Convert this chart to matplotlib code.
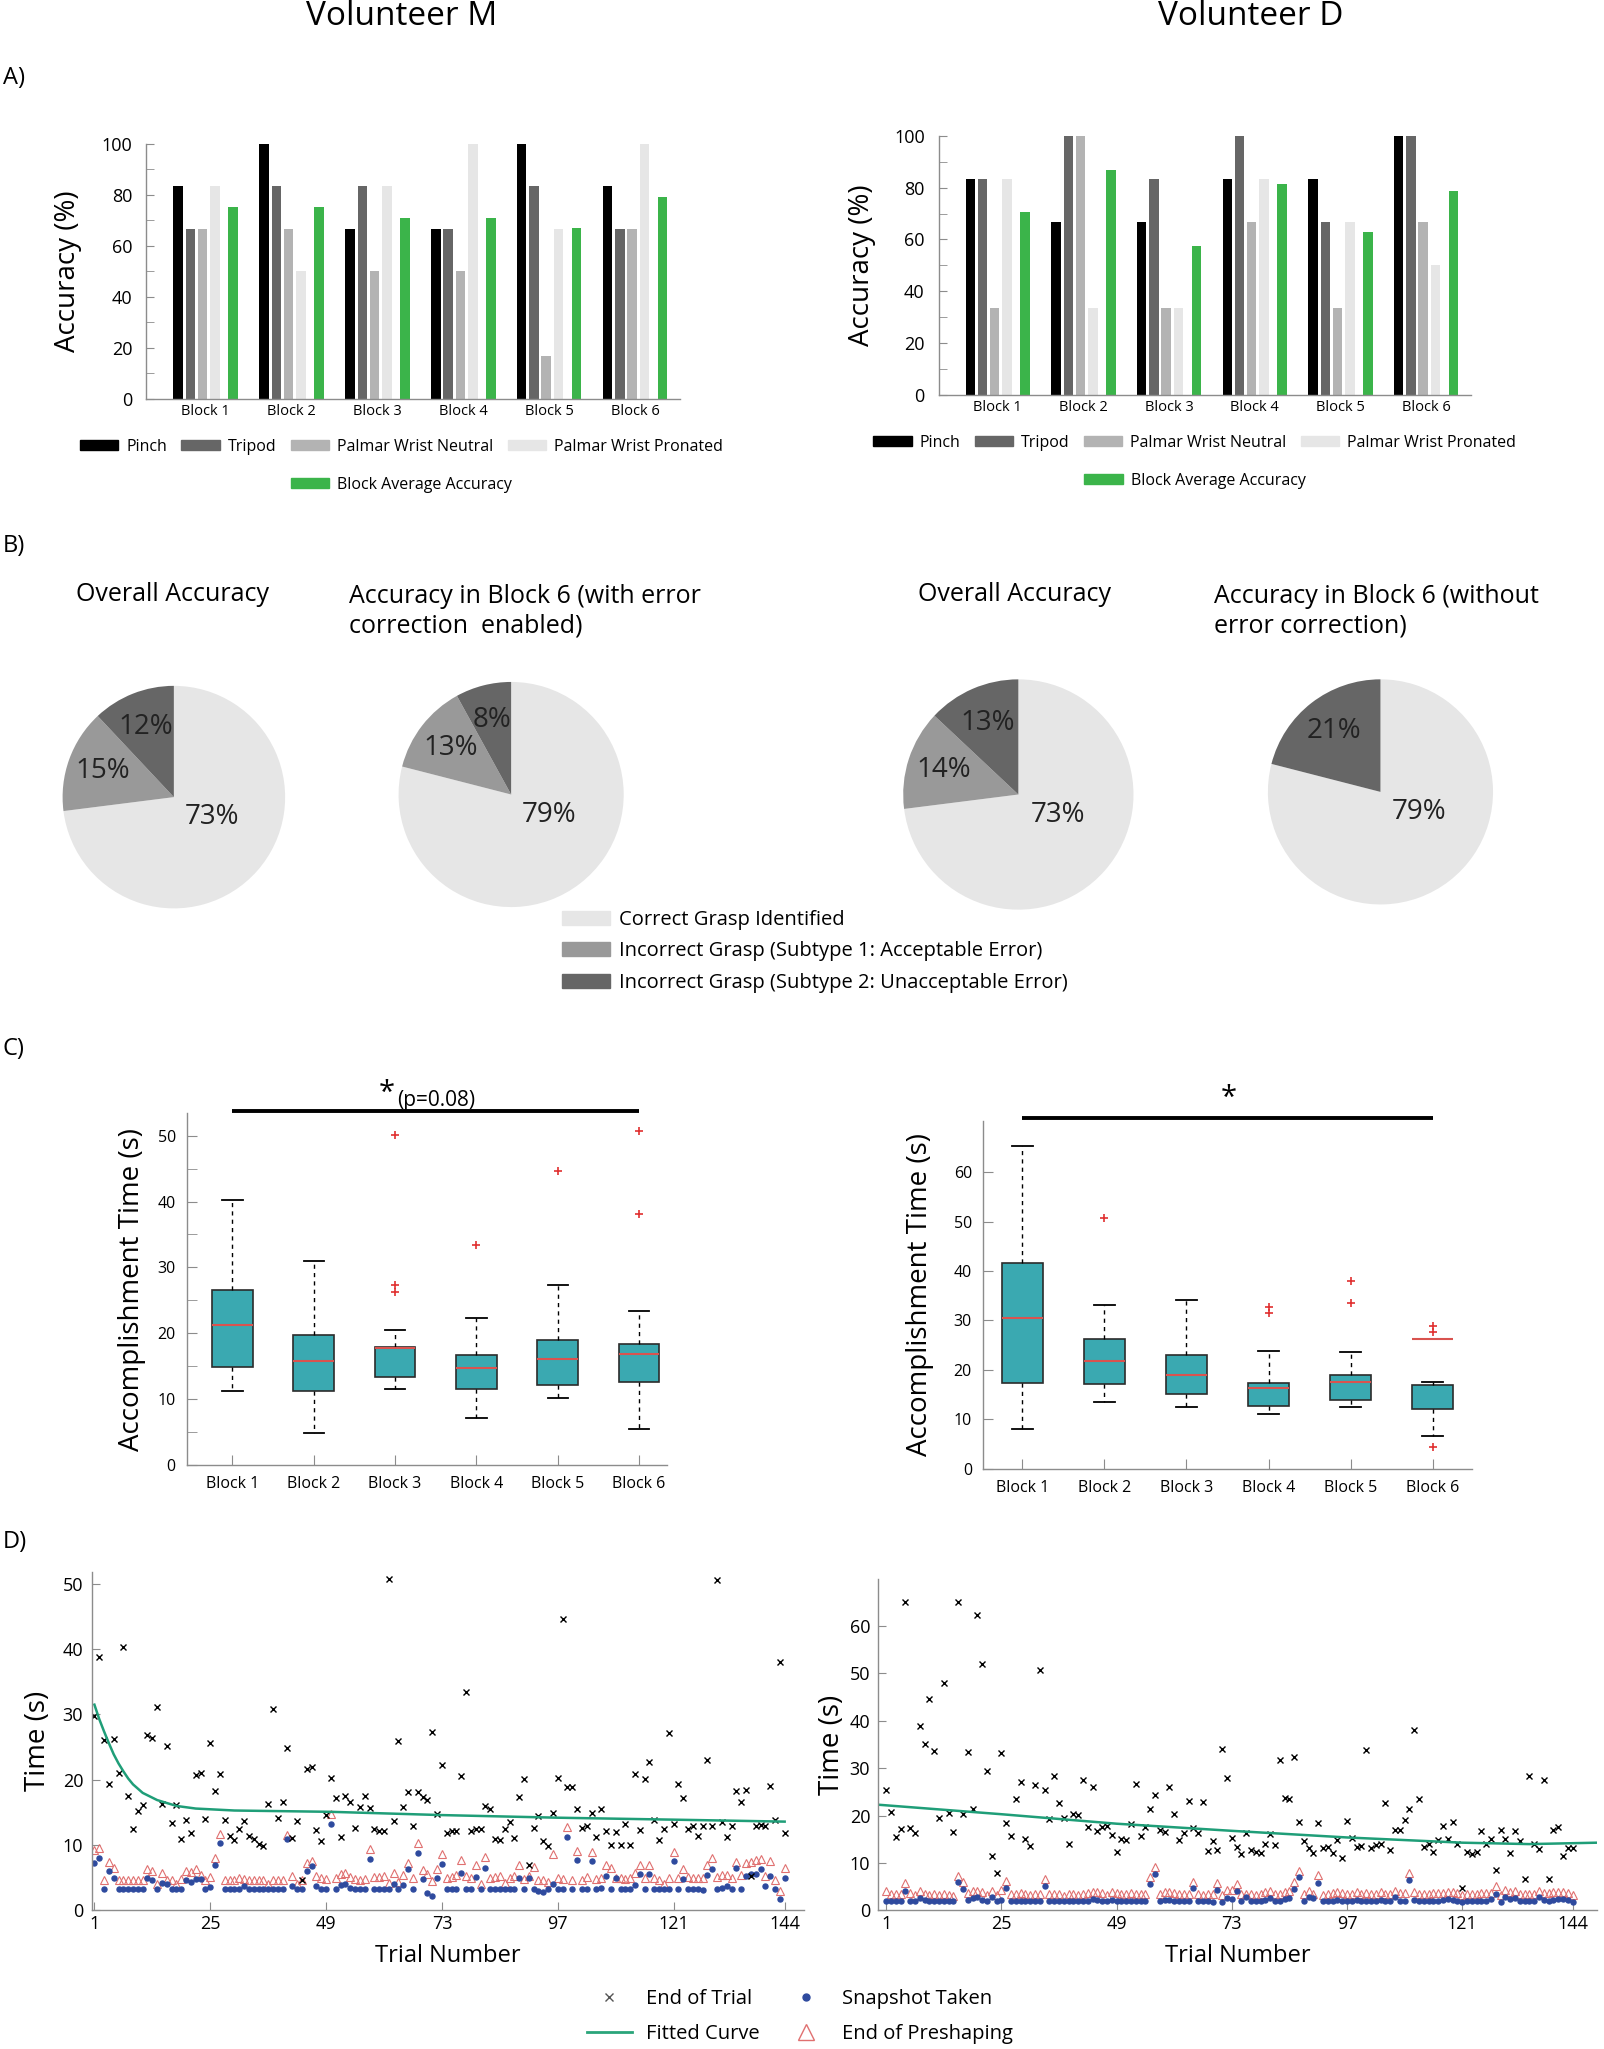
import numpy as np
import matplotlib
matplotlib.use("Agg")
import matplotlib.pyplot as plt
from matplotlib.patches import Patch
from matplotlib.lines import Line2D

plt.rcParams['font.family'] = ['Open Sans', 'DejaVu Sans']

# ---------------- data ----------------
blocks = ["Block 1", "Block 2", "Block 3", "Block 4", "Block 5", "Block 6"]
grasps = ["Pinch", "Tripod", "Palmar Wrist Neutral", "Palmar Wrist Pronated"]

# A) accuracy per grasp per block (rows = grasps)
accM = [[83.3, 100, 66.7, 66.7, 100, 83.3],
        [66.7, 83.3, 83.3, 66.7, 83.3, 66.7],
        [66.7, 66.7, 50.0, 50.0, 16.7, 66.7],
        [83.3, 50.0, 83.3, 100, 66.7, 100]]
avgM = [75.2, 75.2, 71.0, 71.0, 66.9, 79.1]

accD = [[83.3, 66.7, 66.7, 83.3, 83.3, 100],
        [83.3, 100, 83.3, 100, 66.7, 100],
        [33.3, 100, 33.3, 66.7, 33.3, 66.7],
        [83.3, 33.3, 33.3, 83.3, 66.7, 50.0]]
avgD = [70.7, 86.8, 57.5, 81.6, 62.7, 78.8]

# B) pie charts: correct, subtype 1, subtype 2
pie_labels = ["Correct Grasp Identified",
              "Incorrect Grasp (Subtype 1: Acceptable Error)",
              "Incorrect Grasp (Subtype 2: Unacceptable Error)"]
pieM_overall = [73, 15, 12]
pieM_block6 = [79, 13, 8]
pieD_overall = [73, 14, 13]
pieD_block6 = [79, 0, 21]

# C) accomplishment time box stats: whislo, q1, med, q3, whishi
boxM = [[11.2, 14.85, 21.3, 26.5, 40.3],
        [4.8, 11.25, 15.75, 19.8, 31.0],
        [11.6, 13.4, 17.75, 17.9, 20.5],
        [7.1, 11.5, 14.7, 16.7, 22.3],
        [10.1, 12.2, 16.1, 19.0, 27.4],
        [5.4, 12.6, 16.8, 18.4, 23.4]]
fliersM = [[], [], [50.1, 27.4, 26.2], [33.4], [44.7], [50.7, 38.1]]

boxD = [[8.0, 17.3, 30.5, 41.7, 65.2],
        [13.6, 17.2, 21.9, 26.2, 33.2],
        [12.4, 15.1, 19.0, 23.0, 34.2],
        [11.1, 12.6, 16.4, 17.4, 23.9],
        [12.4, 13.9, 17.6, 18.9, 23.6],
        [6.6, 12.1, 26.2, 16.9, 17.6]]
fliersD = [[], [50.7], [], [32.8, 31.6], [38.0, 33.6], [28.9, 27.6, 4.5]]

# D) per-trial times (s)
trials = np.arange(1, 145)

endM = [29.8, 38.8, 26.1, 19.4, 26.3, 21.1, 40.3, 17.5, 12.4, 15.2,
        16.2, 26.9, 26.4, 31.2, 16.3, 25.1, 13.4, 16.2, 10.9, 13.8,
        11.9, 20.7, 21.0, 14.0, 25.6, 18.3, 20.9, 13.9, 11.4, 10.8,
        12.4, 13.7, 11.4, 10.9, 10.2, 9.8, 16.3, 30.9, 14.2, 16.6,
        24.8, 11.1, 13.7, 4.6, 21.6, 21.9, 12.3, 10.7, 14.6, 20.3,
        17.2, 11.3, 17.5, 16.6, 12.6, 15.8, 17.5, 15.7, 12.4, 12.2,
        12.2, 50.7, 13.7, 25.9, 15.8, 18.1, 12.9, 18.2, 17.3, 16.9,
        27.3, 14.8, 22.3, 11.9, 12.1, 12.1, 20.6, 33.4, 12.1, 12.5,
        12.5, 16.0, 15.5, 10.9, 10.8, 12.4, 13.6, 11.1, 17.4, 20.2,
        7.0, 12.6, 14.4, 10.7, 9.9, 14.9, 20.3, 44.6, 18.9, 18.9,
        15.6, 12.6, 13.0, 14.9, 11.2, 15.6, 12.2, 10.0, 12.0, 10.0,
        13.2, 10.0, 20.9, 12.3, 20.2, 22.8, 13.9, 10.8, 12.5, 27.2,
        13.2, 19.4, 17.2, 12.4, 12.9, 11.4, 12.9, 23.1, 12.9, 50.6,
        13.5, 11.2, 12.9, 18.3, 16.6, 18.4, 5.3, 12.9, 13.1, 12.9,
        19.0, 13.9, 38.1, 11.9]
snapM = [7.2, 8.1, 3.3, 6.1, 5.0, 3.3, 3.3, 3.3, 3.3, 3.3,
         3.3, 4.9, 4.6, 3.3, 4.2, 4.0, 3.3, 3.3, 3.3, 4.7,
         4.4, 4.8, 4.8, 3.3, 3.6, 6.9, 10.3, 3.3, 3.3, 3.3,
         3.3, 3.7, 3.3, 3.3, 3.3, 3.3, 3.3, 3.3, 3.3, 3.3,
         11.0, 3.8, 3.3, 3.3, 6.0, 6.8, 3.8, 3.3, 3.3, 13.3,
         3.3, 3.9, 4.1, 3.5, 3.3, 3.3, 3.3, 7.9, 3.3, 3.3,
         3.3, 3.3, 4.0, 3.3, 3.9, 6.3, 3.3, 8.8, 4.8, 2.6,
         2.2, 5.0, 7.1, 3.3, 3.3, 3.3, 5.8, 3.3, 3.3, 5.2,
         3.3, 6.5, 3.3, 3.3, 3.3, 3.3, 3.3, 3.3, 5.0, 3.3,
         5.0, 3.3, 3.0, 2.8, 3.3, 4.1, 3.3, 3.3, 11.2, 3.3,
         7.7, 3.3, 3.3, 7.6, 3.3, 3.4, 5.3, 3.3, 5.0, 3.3,
         3.3, 3.3, 3.9, 5.6, 3.3, 5.6, 3.3, 3.3, 3.3, 3.3,
         7.5, 3.3, 4.8, 3.3, 3.3, 3.3, 3.2, 5.5, 6.3, 3.3,
         3.4, 3.7, 3.3, 6.5, 3.3, 5.3, 5.6, 5.6, 6.4, 3.8,
         5.3, 3.3, 1.8, 5.0]
preM = [9.2, 9.5, 4.7, 7.4, 6.5, 4.7, 4.7, 4.7, 4.7, 4.7,
        4.7, 6.4, 6.0, 4.1, 5.7, 4.7, 4.6, 4.0, 4.8, 6.0,
        5.9, 6.3, 5.5, 4.7, 5.2, 8.1, 11.7, 4.7, 4.7, 4.7,
        5.0, 4.8, 4.7, 4.7, 4.7, 4.7, 4.1, 4.7, 4.7, 4.7,
        11.6, 5.3, 4.1, 4.7, 7.3, 7.6, 5.3, 4.9, 4.8, 14.8,
        5.0, 5.6, 5.7, 5.2, 4.8, 4.7, 4.8, 9.4, 5.1, 5.1,
        5.3, 4.2, 5.7, 4.4, 5.5, 7.3, 4.9, 10.3, 6.2, 5.6,
        4.5, 6.4, 8.6, 4.9, 5.1, 5.4, 7.8, 5.3, 5.0, 6.9,
        4.1, 8.2, 5.0, 5.1, 5.3, 4.2, 4.9, 5.3, 6.9, 4.8,
        5.3, 6.7, 4.7, 4.7, 4.3, 8.6, 5.0, 4.8, 12.8, 4.7,
        9.1, 4.7, 5.1, 8.9, 4.8, 4.9, 6.9, 6.5, 5.0, 4.9,
        4.8, 5.0, 5.8, 7.0, 5.0, 7.0, 4.9, 4.7, 4.1, 5.0,
        8.9, 5.0, 6.4, 5.1, 5.0, 4.9, 4.9, 7.0, 8.0, 5.1,
        5.4, 5.4, 5.0, 7.4, 5.4, 7.3, 7.4, 7.7, 7.9, 5.3,
        7.6, 4.7, 3.0, 6.5]

endD = [25.4, 20.8, 15.5, 17.1, 65.1, 17.5, 16.3, 38.9, 35.2, 44.6,
        33.6, 19.6, 47.9, 20.5, 16.5, 65.1, 20.3, 33.5, 21.3, 62.3,
        51.9, 29.5, 11.5, 8.0, 33.2, 18.5, 15.7, 23.5, 27.2, 15.0,
        13.6, 26.4, 50.8, 25.5, 19.2, 28.3, 22.6, 19.4, 14.1, 20.3,
        20.1, 27.5, 17.6, 26.1, 16.7, 17.7, 17.8, 15.9, 12.3, 15.0,
        14.9, 18.2, 26.6, 15.7, 17.7, 21.3, 24.3, 16.9, 16.6, 26.0,
        20.4, 14.8, 16.3, 23.1, 17.4, 16.3, 22.9, 12.5, 14.7, 12.8,
        34.1, 28.0, 15.2, 13.3, 12.0, 16.4, 12.8, 12.4, 12.2, 14.1,
        16.1, 13.8, 31.7, 23.8, 23.6, 32.4, 18.6, 14.7, 13.2, 12.1,
        18.5, 13.2, 13.4, 12.1, 14.9, 11.0, 18.9, 15.3, 13.3, 13.6,
        33.9, 13.1, 13.8, 14.1, 22.7, 12.7, 17.0, 16.9, 19.0, 21.3,
        38.0, 23.6, 13.3, 14.1, 12.4, 14.9, 17.8, 15.0, 18.7, 14.1,
        4.7, 12.4, 12.0, 12.4, 16.8, 14.0, 15.0, 8.5, 17.0, 15.0,
        12.2, 16.8, 14.6, 6.6, 28.4, 14.1, 13.0, 27.6, 6.6, 17.0,
        17.6, 11.4, 13.2, 13.2]
snapD = [2.0, 2.0, 2.0, 2.0, 4.2, 2.0, 1.9, 2.6, 2.2, 2.0,
         2.0, 2.0, 2.0, 2.0, 1.9, 6.1, 4.5, 2.2, 2.6, 2.8,
         2.3, 1.9, 2.8, 2.0, 2.2, 4.7, 2.0, 2.0, 2.1, 2.0,
         1.9, 2.0, 2.0, 5.2, 2.0, 2.0, 2.1, 2.0, 2.0, 2.0,
         1.9, 2.0, 1.9, 2.4, 2.2, 2.0, 2.0, 2.3, 2.1, 1.9,
         2.0, 2.1, 2.0, 1.9, 2.0, 5.6, 7.7, 1.9, 2.2, 2.3,
         2.1, 2.0, 2.0, 2.0, 4.7, 2.0, 1.9, 2.0, 1.8, 4.3,
         1.8, 2.7, 2.5, 4.1, 1.9, 2.8, 2.0, 2.0, 1.9, 2.3,
         2.6, 2.0, 2.0, 2.5, 2.6, 4.5, 7.0, 2.1, 2.8, 2.6,
         5.9, 1.9, 1.9, 2.0, 2.3, 2.1, 2.0, 2.0, 2.3, 2.0,
         2.0, 1.9, 1.9, 2.3, 1.9, 1.9, 2.8, 2.0, 2.1, 6.4,
         2.2, 2.0, 1.9, 1.9, 2.0, 2.1, 2.2, 2.4, 2.3, 2.0,
         1.8, 1.9, 2.0, 2.0, 2.0, 2.1, 2.4, 3.4, 1.8, 2.8,
         2.4, 2.6, 2.0, 1.9, 1.9, 2.0, 2.9, 2.2, 1.9, 2.3,
         2.4, 2.4, 2.2, 1.8]
preD = [4.2, 3.5, 3.4, 3.5, 5.8, 3.6, 3.3, 4.2, 3.4, 3.2,
        3.4, 3.3, 3.5, 3.3, 3.0, 7.3, 6.1, 3.7, 4.1, 4.2,
        3.8, 3.3, 4.2, 3.3, 4.3, 6.2, 3.5, 3.5, 3.6, 3.5,
        3.3, 3.4, 3.5, 6.6, 3.5, 3.4, 3.5, 3.1, 3.5, 3.4,
        3.3, 3.5, 3.6, 4.0, 3.8, 3.6, 3.3, 3.9, 3.6, 3.5,
        3.4, 3.6, 3.5, 3.4, 3.5, 7.0, 9.2, 3.4, 3.8, 4.0,
        3.6, 3.5, 3.5, 3.5, 6.1, 3.4, 3.3, 3.5, 3.5, 5.8,
        3.3, 4.3, 4.4, 5.5, 3.5, 3.5, 3.5, 3.3, 3.5, 3.9,
        4.1, 3.5, 3.5, 3.9, 4.1, 6.0, 8.4, 3.5, 4.1, 3.5,
        7.4, 3.3, 3.5, 3.6, 3.8, 3.6, 3.5, 3.5, 3.8, 3.5,
        3.6, 3.4, 3.5, 3.8, 3.4, 3.5, 4.2, 3.6, 3.7, 7.8,
        3.8, 3.5, 3.5, 3.5, 3.6, 3.6, 3.7, 3.9, 3.8, 3.6,
        3.3, 3.5, 3.5, 3.5, 3.6, 3.6, 3.7, 5.1, 3.3, 4.3,
        3.9, 4.1, 3.5, 3.4, 3.5, 3.5, 4.2, 3.7, 3.6, 3.9,
        4.0, 3.9, 3.6, 3.2]

# fitted curves
fitM_t = [1, 2, 3, 4, 5, 6, 7, 8, 9, 11, 14, 18, 22, 30, 50, 73, 97, 121, 144]
fitM_v = [31.5, 29.3, 27.4, 25.6, 23.9, 22.5, 21.3, 20.2, 19.3, 18.0, 16.9, 16.0,
          15.6, 15.3, 15.1, 14.6, 14.2, 13.9, 13.6]
fitD_t = [-0.6, 25, 49, 73, 97, 121, 135, 149.2]
fitD_v = [22.3, 20.3, 18.3, 16.8, 15.4, 14.3, 14.0, 14.3]

# ---------------- style ----------------
GRASP_COLORS = ["#000000", "#666666", "#b3b3b3", "#e6e6e6"]
GREEN = "#3bb44a"
PIE_COLORS = ["#e6e6e6", "#999999", "#666666"]
TEAL = "#3aa9b1"
AXC = "#8c8c8c"

fig = plt.figure(figsize=(16.04, 20.49), dpi=100)

W, H = 1227.0, 1568.0


def rect(x0, y0, x1, y1):
    return [x0 / W, 1 - y1 / H, (x1 - x0) / W, (y1 - y0) / H]


def style_axes(ax):
    for s in ["top", "right"]:
        ax.spines[s].set_visible(False)
    for s in ["left", "bottom"]:
        ax.spines[s].set_color(AXC)
        ax.spines[s].set_linewidth(1.0)


# titles and panel letters
fig.text(307 / W, 1 - 13 / H, "Volunteer M", fontsize=24, ha="center", va="center")
fig.text(957 / W, 1 - 13 / H, "Volunteer D", fontsize=24, ha="center", va="center")
for letter, y in [("A)", 60), ("B)", 418), ("C)", 803), ("D)", 1180)]:
    fig.text(2 / W, 1 - y / H, letter, fontsize=17, ha="left", va="center")

# ---------------- A) bars ----------------
offsets = [-0.29, -0.147, -0.005, 0.14]


def accuracy_panel(r, acc, avg, lab_x, leg_x, leg_y):
    ax = fig.add_axes(r)
    x = np.arange(len(blocks))
    for vals, col, off in zip(acc, GRASP_COLORS, offsets):
        ax.bar(x + off, vals, 0.11, color=col)
    ax.bar(x + 0.35, avg, 0.11, color=GREEN)
    ax.set_xlim(-0.66, 5.55)
    ax.set_ylim(0, 100)
    ax.set_yticks(range(0, 101, 20))
    ax.set_yticks(range(10, 100, 20), minor=True)
    ax.tick_params(axis="y", which="both", direction="in", length=6, color=AXC,
                   labelsize=13, pad=10)
    ax.set_xticks(x + 0.03, blocks)
    ax.tick_params(axis="x", length=0, labelsize=10.5, pad=4)
    style_axes(ax)
    ax.set_ylabel("Accuracy (%)", fontsize=20)
    ax.yaxis.set_label_coords(lab_x, 0.5)

    h1 = [Patch(color=c) for c in GRASP_COLORS]
    fig.legend(h1, grasps, loc="center", bbox_to_anchor=(leg_x / W, 1 - leg_y / H),
               ncol=4, frameon=False, fontsize=11.5, handlelength=2.4, handleheight=0.6,
               handletextpad=0.5, columnspacing=0.9, borderpad=0, borderaxespad=0)
    fig.legend([Patch(color=GREEN)], ["Block Average Accuracy"], loc="center",
               bbox_to_anchor=(leg_x / W, 1 - (leg_y + 29) / H), frameon=False,
               fontsize=11.5, handlelength=2.4, handleheight=0.6, handletextpad=0.5,
               borderpad=0, borderaxespad=0)


accuracy_panel(rect(112, 110, 520, 305), accM, avgM, -0.12, 307, 342)
accuracy_panel(rect(718, 104, 1125, 302), accD, avgD, -0.118, 914, 339)

# ---------------- B) pies ----------------


def pie_panel(cx, cy, r, values):
    ax = fig.add_axes(rect(cx - r, cy - r, cx + r, cy + r))
    wedges, _ = ax.pie(values, colors=PIE_COLORS, startangle=90, counterclock=False)
    ax.set_xlim(-1.01, 1.01)
    ax.set_ylim(-1.01, 1.01)
    for w, v in zip(wedges, values):
        if v == 0:
            continue
        if v > 50:
            tx, ty = 0.34, -0.18
        else:
            a = np.deg2rad((w.theta1 + w.theta2) / 2)
            tx, ty = 0.68 * np.cos(a), 0.68 * np.sin(a)
        ax.text(tx, ty, f"{v}%", fontsize=20, ha="center", va="center", color="#222222")


pie_panel(133, 610, 86, pieM_overall)
pie_panel(391, 608, 87, pieM_block6)
pie_panel(779, 608, 89, pieD_overall)
pie_panel(1056, 606, 87, pieD_block6)

fig.text(132 / W, 1 - 455 / H, "Overall Accuracy", fontsize=18, ha="center", va="center")
fig.text(267 / W, 1 - 468 / H, "Accuracy in Block 6 (with error\ncorrection  enabled)",
         fontsize=18, ha="left", va="center", linespacing=1.25)
fig.text(776 / W, 1 - 455 / H, "Overall Accuracy", fontsize=18, ha="center", va="center")
fig.text(929 / W, 1 - 468 / H, "Accuracy in Block 6 (without\nerror correction)",
         fontsize=18, ha="left", va="center", linespacing=1.25)

fig.legend([Patch(color=c) for c in PIE_COLORS], pie_labels, loc="center left",
           bbox_to_anchor=(430 / W, 1 - 728 / H), frameon=False, fontsize=14.5,
           handlelength=2.4, handleheight=0.7, labelspacing=0.58, handletextpad=0.4,
           borderpad=0, borderaxespad=0)

# ---------------- C) boxplots ----------------


def box_panel(r, stats_rows, fliers, xlim, ylim, major, minor, lab_x):
    ax = fig.add_axes(r)
    stats = []
    for (lo, q1, med, q3, hi), fl in zip(stats_rows, fliers):
        stats.append(dict(whislo=lo, q1=q1, med=med, q3=q3, whishi=hi, fliers=fl))
    ax.bxp(stats, positions=range(1, 7), widths=0.5, patch_artist=True,
           boxprops=dict(facecolor=TEAL, edgecolor="#2b2b2b", linewidth=1.2),
           medianprops=dict(color="#d9534f", linewidth=1.5),
           whiskerprops=dict(color="black", linestyle=(0, (3, 3)), linewidth=1.0),
           capprops=dict(color="black", linewidth=1.3),
           flierprops=dict(marker="+", markeredgecolor="#e03030", markersize=6,
                           markeredgewidth=1.2))
    ax.set_xlim(*xlim)
    ax.set_ylim(*ylim)
    ax.set_xticks(range(1, 7), blocks)
    ax.set_yticks(major)
    if minor:
        ax.set_yticks(minor, minor=True)
    ax.tick_params(axis="both", which="both", direction="in", length=7, color=AXC,
                   labelsize=11.5)
    ax.tick_params(axis="y", pad=8)
    ax.tick_params(axis="x", pad=8)
    style_axes(ax)
    ax.set_ylabel("Accomplishment Time (s)", fontsize=20)
    ax.yaxis.set_label_coords(lab_x, 0.5)
    return ax


axCM = box_panel(rect(143, 852, 510, 1121), boxM, fliersM, (0.44, 6.34), (0, 53.4),
                 range(0, 51, 10), list(range(5, 50, 10)), -0.085)
axCD = box_panel(rect(752, 858, 1126, 1124), boxD, fliersD, (0.52, 6.48), (0, 70.3),
                 range(0, 61, 10), None, -0.1)

axCM.plot([1, 6], [53.8, 53.8], color="black", lw=2.8, clip_on=False,
          solid_capstyle="butt")
axCM.text(2.9, 56.4, "*", fontsize=21, ha="center", va="center")
axCM.text(3.02, 55.3, "(p=0.08)", fontsize=15, ha="left", va="center")
axCD.plot([1, 6], [71.0, 71.0], color="black", lw=2.8, clip_on=False,
          solid_capstyle="butt")
axCD.text(3.52, 75.0, "*", fontsize=21, ha="center", va="center")

# ---------------- D) trial scatter ----------------
xt = [1, 25, 49, 73, 97, 121, 144]


def trial_panel(r, end, snap, pre, fit_t, fit_v, xlim, ylim, yt, lab_x):
    ax = fig.add_axes(r)
    ax.plot(trials, pre, linestyle="none", marker="^", markersize=6,
            markerfacecolor="none", markeredgecolor="#e07070", markeredgewidth=0.8)
    ax.plot(trials, snap, linestyle="none", marker="o", markersize=3.6,
            color="#2e4a9e")
    ax.plot(trials, end, linestyle="none", marker="x", markersize=4.5,
            color="black", markeredgewidth=1.0)
    ax.plot(fit_t, fit_v, color="#1f9e78", lw=1.8)
    ax.set_xlim(*xlim)
    ax.set_ylim(*ylim)
    ax.set_xticks(xt)
    ax.set_yticks(yt)
    ax.tick_params(axis="both", direction="in", length=6, color=AXC, labelsize=13)
    ax.tick_params(axis="y", pad=6)
    style_axes(ax)
    ax.set_ylabel("Time (s)", fontsize=20)
    ax.yaxis.set_label_coords(lab_x, 0.5)
    ax.set_xlabel("Trial Number", fontsize=17)
    ax.xaxis.set_label_coords(0.5, -0.1)
    return ax


trial_panel(rect(70, 1203, 615, 1462), endM, snapM, preM, fitM_t, fitM_v,
            (0.4, 148), (0, 51.8), range(0, 51, 10), -0.055)
trial_panel(rect(672, 1208, 1222, 1462), endD, snapD, preD, fitD_t, fitD_v,
            (-0.63, 149.2), (0, 70), range(0, 61, 10), -0.045)

handles = [Line2D([], [], linestyle="none", marker="x", color="#555555", markersize=6),
           Line2D([], [], color="#2aa57a", lw=2),
           Line2D([], [], linestyle="none", marker="o", color="#2e4a9e", markersize=5),
           Line2D([], [], linestyle="none", marker="^", markerfacecolor="none",
                  markeredgecolor="#e07070", markersize=11)]
labels = ["End of Trial", "Fitted Curve", "Snapshot Taken", "End of Preshaping"]
fig.legend(handles, labels, loc="center", bbox_to_anchor=(612 / W, 1 - 1543 / H),
           ncol=2, frameon=False, fontsize=14.5, handlelength=2.2, labelspacing=0.75,
           columnspacing=1.2, handletextpad=0.7, borderpad=0, borderaxespad=0)

fig.savefig("out.png", dpi=100)
